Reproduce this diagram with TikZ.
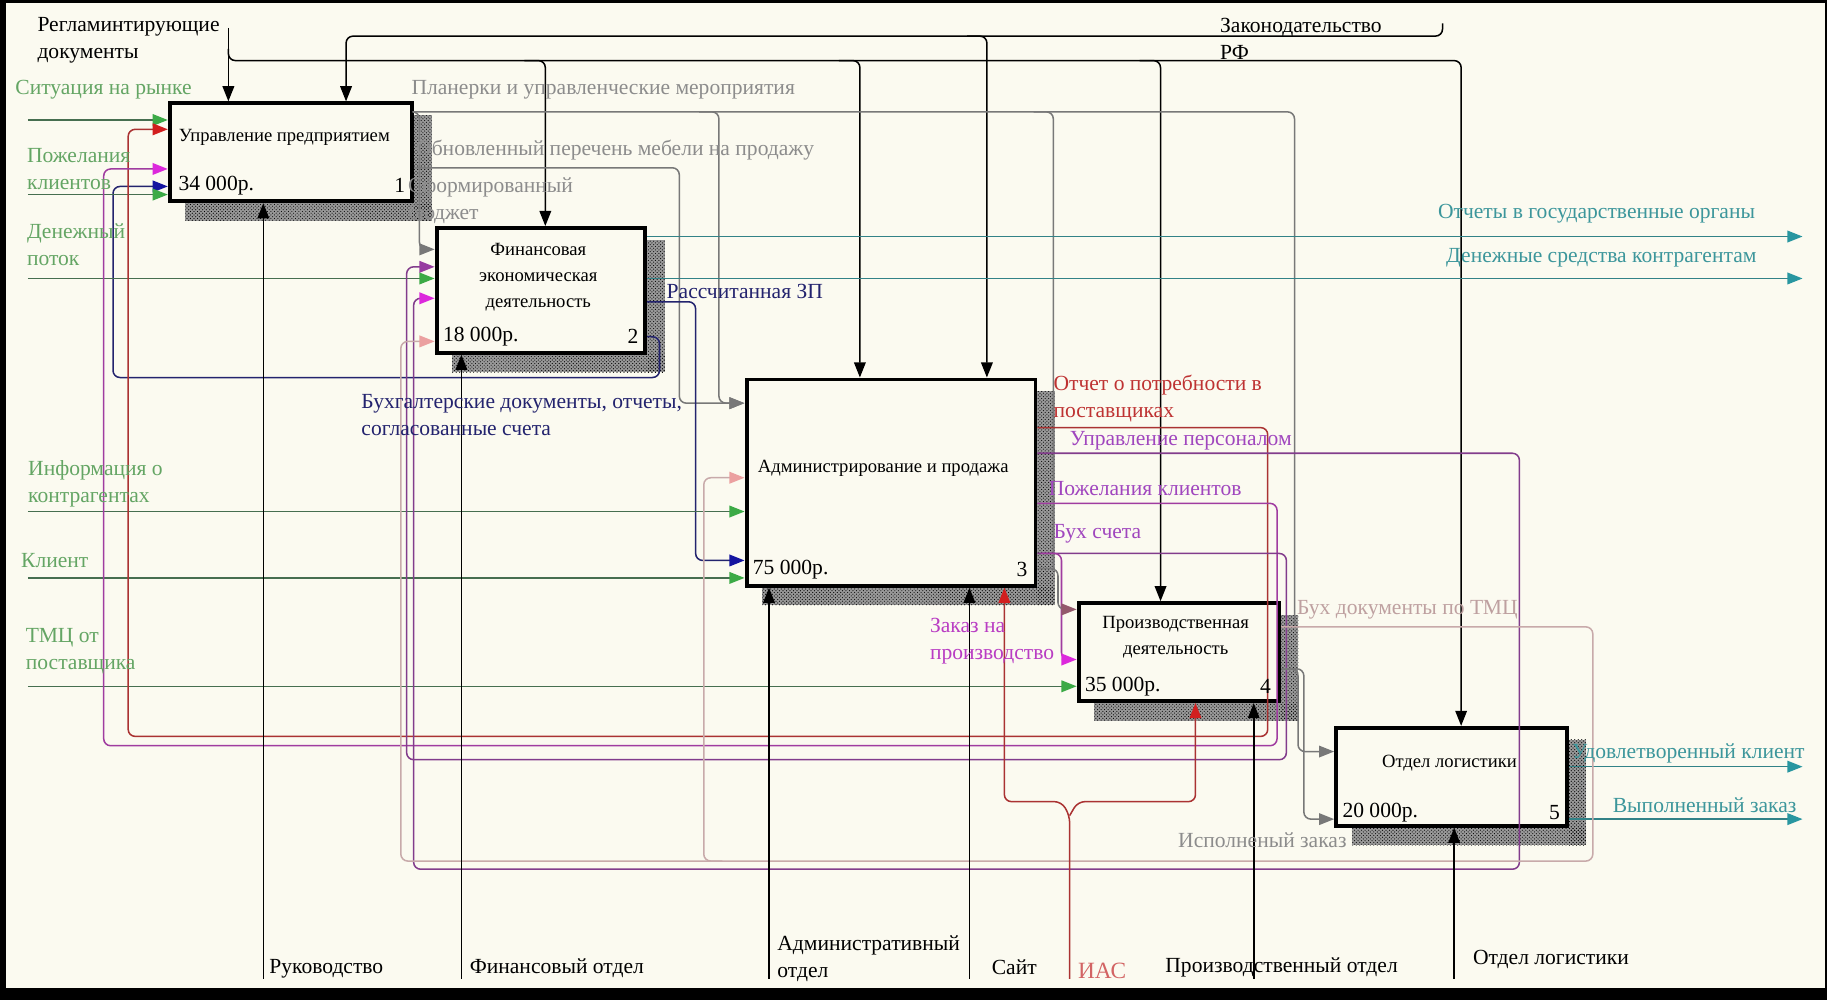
\documentclass[tikz,border=0pt]{standalone}
\usepackage{fontspec}
\setmainfont{Liberation Serif}
\usetikzlibrary{arrows.meta,patterns,calc}
\definecolor{bgc}{RGB}{251,250,240}
\definecolor{gline}{RGB}{70,110,80}
\definecolor{ghead}{RGB}{60,170,70}
\definecolor{gtext}{RGB}{100,165,100}
\definecolor{tline}{RGB}{50,130,135}
\definecolor{thead}{RGB}{40,150,160}
\definecolor{ttext}{RGB}{60,150,155}
\definecolor{grl}{RGB}{120,120,120}
\definecolor{grt}{RGB}{140,140,140}
\definecolor{blu}{RGB}{35,35,110}
\definecolor{bluh}{RGB}{20,20,160}
\definecolor{redl}{RGB}{170,50,50}
\definecolor{redh}{RGB}{210,30,30}
\definecolor{redt}{RGB}{190,50,50}
\definecolor{mag}{RGB}{160,60,160}
\definecolor{magh}{RGB}{220,40,220}
\definecolor{magt}{RGB}{185,60,195}
\definecolor{pur}{RGB}{130,60,140}
\definecolor{purh}{RGB}{150,60,160}
\definecolor{purt}{RGB}{160,70,190}
\definecolor{pnk}{RGB}{200,170,170}
\definecolor{pnkh}{RGB}{235,160,160}
\definecolor{pnkt}{RGB}{190,160,160}
\definecolor{iast}{RGB}{210,100,100}
\newcommand{\lfont}{\fontsize{18.5}{23}\selectfont}
\newcommand{\boxfont}{\fontsize{16}{22.5}\selectfont}
\newcommand{\costfont}{\fontsize{18.5}{20}\selectfont}
\pgfdeclarelayer{bgl}
\pgfsetlayers{bgl,main}
\tikzset{
  lbl/.style={font=\lfont, inner sep=0pt, anchor=west, align=left},
  ln/.style={line width=1.3pt, rounded corners=6pt},
  ahead/.style={-{Triangle[length=13pt,width=10pt,color=#1]}},
  box/.style={draw=black, line width=3.4pt, fill=bgc, inner sep=0pt, anchor=north west},
  btxt/.style={font=\boxfont, inner sep=0pt, align=center},
  cost/.style={font=\costfont, inner sep=0pt, anchor=west},
  num/.style={font=\costfont, inner sep=0pt, anchor=east},
  shad/.style={pattern=crosshatch dots, pattern color=black},
}
\begin{document}
\begin{tikzpicture}[x=1pt,y=-1pt]
\useasboundingbox (0,0) rectangle (1568,858);
% boxes
\node[box, minimum width=208pt, minimum height=84pt] (b1) at (144,87) {};
\node[box, minimum width=179pt, minimum height=107pt] (b2) at (373,194) {};
\node[box, minimum width=248pt, minimum height=177pt] (b3) at (639,324) {};
\node[box, minimum width=172pt, minimum height=84pt] (b4) at (924,516) {};
\node[box, minimum width=198pt, minimum height=84pt] (b5) at (1145,623) {};
\begin{pgfonlayer}{bgl}
\fill[black] (0,0) rectangle (1568,858);
\fill[bgc] (5,3) rectangle (1566,848);
\foreach \b in {b1,b2,b3,b4,b5}{
  \fill[black!40] ($(\b.north east)+(0,12)$) rectangle ($(\b.south east)+(15,15)$);
  \fill[black!40] ($(\b.south west)+(15,0)$) rectangle ($(\b.south east)+(15,15)$);
  \fill[shad] ($(\b.north east)+(0,12)$) rectangle ($(\b.south east)+(15,15)$);
  \fill[shad] ($(\b.south west)+(15,0)$) rectangle ($(\b.south east)+(15,15)$);
}
\end{pgfonlayer}
% free-end coordinates
\coordinate (rg) at (196,24);
\coordinate (zk) at (1238,20);
\coordinate (g1) at (24,103);
\coordinate (g2) at (24,167);
\coordinate (g3) at (24,239);
\coordinate (g4) at (24,439);
\coordinate (g5) at (24,496);
\coordinate (g6) at (24,589);
\coordinate (o1) at (1547,203);
\coordinate (o2) at (1547,239);
\coordinate (o3) at (1547,658);
\coordinate (o4) at (1547,703);
\coordinate (m1) at (226,840);
\coordinate (m2) at (396,840);
\coordinate (m3) at (660,840);
\coordinate (m4) at (832,840);
\coordinate (m5) at (1076,840);
\coordinate (m6) at (1248,840);
\coordinate (ias) at (918,840);
% controls (black)
\draw[ln, ahead=black] (rg) -- (rg |- b1.north);
\draw[ln, ahead=black] (196,42) |- (1254,52) -- (1254,0 |- b5.north);
\draw[ln, ahead=black] (450,52) -| (468,0 |- b2.north);
\draw[ln, ahead=black] (720,52) -| (738,0 |- b3.north);
\draw[ln, ahead=black] (978,52) -| (996,0 |- b4.north);
\draw[ln, ahead=black] (zk) |- (297,31) -- (297,0 |- b1.north);
\draw[ln, ahead=black] (830,31) -| (847,0 |- b3.north);
% gray
\draw[ln, grl] (b1.east |- 0,96) -| (1111,538);
\draw[ln, grl, ahead=grl] (b1.east |- 0,96) -| (360,214) -- (b2.west |- 0,214);
\draw[ln, grl, ahead=grl] (600,96) -| (617,346) -- (b3.west |- 0,346);
\draw[ln, grl] (887,96) -| (904,488);
\draw[ln, grl, ahead=grl] (b1.east |- 0,144) -| (583,346) -- (b3.west |- 0,346);
% dark blue
\draw[ln, blu, ahead=bluh] (b2.east |- 0,259) -| (597,481) -- (b3.west |- 0,481);
\draw[ln, blu, ahead=bluh] (b2.east |- 0,289) -| (566,324) -| (97,160) -- (b1.west |- 0,160);
% teal outputs
\draw[ln, tline, ahead=thead] (b2.east |- 0,203) -- (o1);
\draw[ln, tline, ahead=thead] (b2.east |- 0,239) -- (o2);
\draw[ln, tline, ahead=thead] (b5.east |- 0,658) -- (o3);
\draw[ln, tline, ahead=thead] (b5.east |- 0,703) -- (o4);
% green inputs
\draw[ln, gline, ahead=ghead] (g1) -- (g1 -| b1.west);
\draw[ln, gline, ahead=ghead] (g2) -- (g2 -| b1.west);
\draw[ln, gline, ahead=ghead] (g3) -- (g3 -| b2.west);
\draw[ln, gline, ahead=ghead] (g4) -- (g4 -| b3.west);
\draw[ln, gline, ahead=ghead] (g5) -- (g5 -| b3.west);
\draw[ln, gline, ahead=ghead] (g6) -- (g6 -| b4.west);
% feedback loops
\draw[ln, redl, ahead=redh] (b3.east |- 0,367) -| (1088,632) -| (110,111) -- (b1.west |- 0,111);
\draw[ln, mag, ahead=magh] (b3.east |- 0,432) -| (1096,640) -| (89,145) -- (b1.west |- 0,145);
\draw[ln, pur, ahead=purh] (b3.east |- 0,475) -| (1104,652) -| (349,229) -- (b2.west |- 0,229);
\draw[ln, mag, ahead=magh] (893,475) -| (911,566) -- (b4.west |- 0,566);
\draw[ln, pur, ahead=magh] (b3.east |- 0,389) -| (1304,746) -| (355,256) -- (b2.west |- 0,256);
\draw[ln, pnk, ahead=pnkh] (b4.east |- 0,538) -| (1367,739) -| (344,293) -- (b2.west |- 0,293);
\draw[ln, pnk, ahead=pnkh] (620,739) -| (604,410) -- (b3.west |- 0,410);
\draw[ln, grl, ahead=gray!70!purple] (b3.east |- 0,488) -| (908,523) -- (b4.west |- 0,523);
\draw[ln, grl, ahead=grl] (b4.east |- 0,574) -| (1114,645) -- (b5.west |- 0,645);
\draw[ln, grl, ahead=grl] (1100,574) -| (1119,703) -- (b5.west |- 0,703);
% mechanisms
\draw[ln, ahead=black] (m1) -- (m1 |- b1.south);
\draw[ln, ahead=black] (m2) -- (m2 |- b2.south);
\draw[ln, ahead=black] (m3) -- (m3 |- b3.south);
\draw[ln, ahead=black] (m4) -- (m4 |- b3.south);
\draw[ln, ahead=black] (m5) -- (m5 |- b4.south);
\draw[ln, ahead=black] (m6) -- (m6 |- b5.south);
\draw[ln, redl, ahead=redh] (ias) -- (918,700) -- (911,688) -| (862,0 |- b3.south);
\draw[ln, redl, ahead=redh] (918,700) -- (925,688) -| (1026,0 |- b4.south);
% box texts
\node[btxt] (t1) at (244,118) {Управление предприятием};
\node[cost] (c1) at (153,159) {34 000р.};
\node[num] (n1) at (348,159) {1};
\node[btxt] (t2) at (462,238) {Финансовая\\экономическая\\деятельность};
\node[cost] (c2) at (380,289) {18 000р.};
\node[num] (n2) at (548,289) {2};
\node[btxt] (t3) at (758,402) {Администрирование и продажа};
\node[cost] (c3) at (646,489) {75 000р.};
\node[num] (n3) at (882,489) {3};
\node[btxt] (t4) at (1009,547) {Производственная\\деятельность};
\node[cost] (c4) at (931,589) {35 000р.};
\node[num] (n4) at (1091,589) {4};
\node[btxt] (t5) at (1244,655) {Отдел логистики};
\node[cost] (c5) at (1152,697) {20 000р.};
\node[num] (n5) at (1339,697) {5};
% labels
\node[lbl] (l1) at (32,34.5) {Регламинтирующие\\документы};
\node[lbl] (l2) at (1047,33.5) {Законодательство\\РФ};
\node[lbl, gtext] (l3) at (13,77) {Ситуация на рынке};
\node[lbl, gtext] (l4) at (23,145) {Пожелания\\клиентов};
\node[lbl, gtext] (l5) at (23,210) {Денежный\\поток};
\node[lbl, gtext] (l6) at (24,415) {Информация о\\контрагентах};
\node[lbl, gtext] (l7) at (18,481) {Клиент};
\node[lbl, gtext] (l8) at (22,559) {ТМЦ от\\поставщика};
\node[lbl, grt] (l9) at (353,77) {Планерки и управленческие мероприятия};
\node[lbl, grt] (l10) at (357,129) {Обновленный перечень мебели на продажу};
\node[lbl, grt] (l11) at (350,172) {Сформированный\\бюджет};
\node[lbl, blu] (l12) at (572,250) {Рассчитанная ЗП};
\node[lbl, blu] (l13) at (310,356) {Бухгалтерские документы, отчеты,\\согласованные счета};
\node[lbl, redt] (l14) at (904,342) {Отчет о потребности в\\поставщиках};
\node[lbl, purt] (l15) at (918,378) {Управление персоналом};
\node[lbl, purt] (l16) at (900,419) {Пожелания клиентов};
\node[lbl, purt] (l17) at (904,458) {Бух счета};
\node[lbl, magt] (l18) at (798,550) {Заказ на\\производство};
\node[lbl, pnkt] (l19) at (1113,523) {Бух документы по ТМЦ};
\node[lbl, grt] (l20) at (1011,721) {Исполненый заказ};
\node[lbl, ttext] (l21) at (1234,183) {Отчеты в государственные органы};
\node[lbl, ttext] (l22) at (1241,221) {Денежные средства контрагентам};
\node[lbl, ttext, anchor=east] (l23) at (1549,647) {Удовлетворенный клиент};
\node[lbl, ttext] (l24) at (1384,691) {Выполненный заказ};
\node[lbl] (l25) at (231,831) {Руководство};
\node[lbl] (l26) at (403,831) {Финансовый отдел};
\node[lbl] (l27) at (667,823) {Административный\\отдел};
\node[lbl] (l28) at (851,830) {Сайт};
\node[lbl, iast, font=\fontsize{20}{23}\selectfont] (l29) at (925,833) {ИАС};
\node[lbl] (l30) at (1000,830) {Производственный отдел};
\node[lbl] (l31) at (1264,823) {Отдел логистики};
\end{tikzpicture}
\end{document}
